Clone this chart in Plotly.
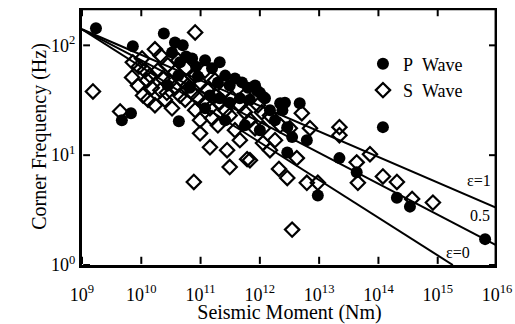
import math
import plotly.graph_objects as go

# ---- data ----
p_moment = [1.72e9, 7.2e9, 4.7e9, 6.7e9, 4.3e10, 2.4e10, 3.7e10, 5.0e10, 3.3e10, 5.7e10,
            4.5e10, 7.2e10, 8.4e10, 9.0e10, 1.19e11, 1.56e11, 2.1e11, 2.6e11, 1.96e11, 3.1e11,
            3.8e11, 5.0e11, 6.3e11, 8.3e11, 1.0e12, 1.22e12, 1.44e11, 2.1e11, 3.1e11, 4.6e11,
            6.8e11, 6.6e10, 1.19e11, 8.9e11, 1.13e12, 2.2e12, 2.65e12, 4.7e12, 3.5e12, 6.2e12,
            2.9e12, 1.8e12, 1.48e12, 2.4e12, 9.5e12, 2.2e13, 4.3e13, 1.19e14, 2.05e14, 3.4e14,
            6.3e15, 5.6e11, 1.0e12, 2.6e11, 4.2e10, 2.8e10, 2.9e12]
p_freq = [143, 98, 20.8, 24.1, 20.4, 128, 106, 100, 86, 79,
          70, 76, 64, 52, 73, 62, 70, 53, 46, 43,
          50, 46, 41, 43, 37, 33, 35, 33, 30, 33,
          32, 41, 26.7, 39, 34, 29.7, 30, 29.7, 14.6, 13.7,
          18, 20.8, 25.7, 25.7, 4.3, 9.4, 7.0, 18, 4.1, 3.4,
          1.72, 18.7, 16.9, 20.8, 53, 43, 10.6]

s_moment = [1.53e9, 4.4e9, 7.0e9, 7.2e9, 9.1e9, 1.25e10, 1.7e10, 8.1e10, 1.15e10, 1.4e10,
            1.5e10, 2.1e10, 2.7e10, 1.9e10, 2.3e10, 3.0e10, 3.7e10, 4.5e10, 5.5e10, 2.8e10,
            3.7e10, 4.9e10, 6.1e10, 7.2e10, 9.0e10, 1.19e11, 1.44e11, 4.2e10, 5.7e10, 8.1e10,
            9.8e10, 1.33e11, 1.75e11, 2.1e11, 2.6e11, 3.1e11, 8.1e10, 9.8e10, 1.56e11, 1.96e11,
            4.6e11, 5.6e11, 6.8e11, 8.3e11, 3.8e11, 4.6e11, 9.8e10, 1.44e11, 2.8e11, 3.1e11,
            6.1e11, 7.7e10, 1.13e12, 1.13e12, 6.8e11, 2.1e12, 2.9e12, 3.5e12, 6.2e12, 9.5e12,
            4.2e12, 5.1e12, 3.2e12, 2.2e13, 2.2e13, 4.3e13, 7.2e13, 4.5e13, 1.19e14, 2.05e14,
            3.7e14, 8.3e14, 1.48e12, 1.8e12, 2.6e11, 3.4e11, 5.6e11, 9.3e11, 1.08e12,
            1.75e11, 1.19e11, 2.1e10, 1.03e10, 1.3e10, 1.7e10, 2.5e10, 3.3e10, 2.2e12, 1.48e12,
            7.0e12, 8.8e9, 1.07e10]
s_freq = [38, 25, 51, 70, 64, 48, 92, 131, 59, 53,
          41, 39, 37, 59, 50, 46, 41, 35, 32, 66,
          57, 48, 43, 37, 33, 29.7, 26.7, 73, 62, 53,
          46, 39, 35, 30, 25.7, 23, 25.7, 20.8, 21.7, 18.7,
          28.5, 24.6, 20.8, 17.6, 16.9, 13.7, 15.8, 11.8, 11.1, 7.8,
          9.2, 5.7, 17.6, 12.9, 9.0, 7.5, 6.2, 2.1, 5.6, 5.6,
          9.4, 24.1, 17.6, 18, 15.2, 8.6, 10.2, 5.6, 6.4, 5.7,
          4.0, 3.7, 23, 13.7, 39, 33, 35, 28.5, 24.6,
          48, 59, 81, 76, 32, 28.5, 32, 26.7, 18.7, 11.1,
          17.6, 43, 35]

# model lines (end points)
line_labels = ["ε=1", "0.5", "ε=0"]
line_moment = [[1e9, 1e16], [1e9, 1e16], [1e9, 1.8e15]]
line_freq = [[140, 3.3], [140, 1.5], [140, 1.0]]
label_pos_moment = [2.9e15, 3.2e15, 1.26e15]
label_pos_freq = [5.9, 2.8, 1.29]

x_tickvals = [1e9, 1e10, 1e11, 1e12, 1e13, 1e14, 1e15, 1e16]
x_ticktext = ["10<sup>9</sup>", "10<sup>10</sup>", "10<sup>11</sup>", "10<sup>12</sup>",
              "10<sup>13</sup>", "10<sup>14</sup>", "10<sup>15</sup>", "10<sup>16</sup>"]
y_tickvals = [1, 10, 100]
y_ticktext = ["10<sup>0</sup>", "10<sup>1</sup>", "10<sup>2</sup>"]

X_RANGE = [9, 16]        # log10 range of the x axis
Y_RANGE = [0, 2.34]      # log10 range of the y axis
X_TICK_DEC = 0.135       # inside tick length on the y axes, in x decades (~8 px)
Y_TICK_DEC = 0.075       # inside tick length on the x axes, in y decades (~8 px)
X_EDGE_DEC = 0.02        # frame inset from the right edge, in x decades (~1 px)
Y_EDGE_DEC = 0.01        # frame inset from the top edge, in y decades (~1 px)

FONT = "Liberation Serif, Times New Roman, serif"

fig = go.Figure()

for xs, ys in zip(line_moment, line_freq):
    fig.add_trace(go.Scatter(x=xs, y=ys, mode="lines", line=dict(color="black", width=2),
                             showlegend=False, hoverinfo="skip"))

fig.add_trace(go.Scatter(x=p_moment, y=p_freq, mode="markers", name="P\u00a0\u00a0Wave",
                         marker=dict(symbol="circle", size=12, color="black",
                                     line=dict(color="black", width=0))))
fig.add_trace(go.Scatter(x=s_moment, y=s_freq, mode="markers", name="S\u00a0\u00a0Wave",
                         marker=dict(symbol="diamond-open", size=11, color="black",
                                     line=dict(color="black", width=2.2))))

# ---- frame (top/right) and inside ticks on all four sides, one segment per trace ----
x_in_lo = 10 ** (X_RANGE[0] + X_EDGE_DEC)
x_in_hi = 10 ** (X_RANGE[1] - X_EDGE_DEC)
y_in_lo = 10 ** (Y_RANGE[0] + Y_EDGE_DEC)
y_in_hi = 10 ** (Y_RANGE[1] - Y_EDGE_DEC)
segments = []
for tv in x_tickvals:
    segments.append(([tv, tv], [y_in_lo, 10 ** (Y_RANGE[0] + Y_TICK_DEC)]))
    segments.append(([tv, tv], [y_in_hi, 10 ** (Y_RANGE[1] - Y_TICK_DEC)]))
for tv in y_tickvals:
    segments.append(([x_in_lo, 10 ** (X_RANGE[0] + X_TICK_DEC)], [tv, tv]))
    segments.append(([x_in_hi, 10 ** (X_RANGE[1] - X_TICK_DEC)], [tv, tv]))
for sx, sy in segments:
    fig.add_trace(go.Scatter(x=sx, y=sy, mode="lines",
                             line=dict(color="black", width=2, simplify=False),
                             showlegend=False, hoverinfo="skip", cliponaxis=False))
fig.add_trace(go.Scatter(x=[10 ** X_RANGE[0], x_in_hi, x_in_hi],
                         y=[y_in_hi, y_in_hi, 10 ** Y_RANGE[0]], mode="lines",
                         line=dict(color="black", width=2.5, simplify=False),
                         showlegend=False, hoverinfo="skip", cliponaxis=False))

# annotation positions on log axes are given as log10 of the data value
for lab, mx, fy in zip(line_labels, label_pos_moment, label_pos_freq):
    fig.add_annotation(x=math.log10(mx), y=math.log10(fy), xref="x", yref="y", text=lab,
                       showarrow=False, font=dict(family=FONT, size=16, color="black"),
                       xanchor="left")

fig.update_layout(
    xaxis=dict(type="log", range=X_RANGE, tickvals=x_tickvals, ticktext=x_ticktext,
               ticks="outside", ticklen=11, tickcolor="rgba(0,0,0,0)",
               showline=True, linewidth=3, linecolor="black",
               showgrid=False, zeroline=False, automargin=False,
               tickfont=dict(family=FONT, size=18, color="black"),
               title=dict(text="Seismic Moment (Nm)", font=dict(family=FONT, size=20, color="black"),
                          standoff=0)),
    yaxis=dict(type="log", range=Y_RANGE, tickvals=y_tickvals, ticktext=y_ticktext,
               ticks="", showline=True, linewidth=3, linecolor="black",
               showgrid=False, zeroline=False, automargin=False,
               tickfont=dict(family=FONT, size=18, color="black"),
               title=dict(text="Corner Frequency (Hz)", font=dict(family=FONT, size=20, color="black"),
                          standoff=0)),
    width=515, height=324,
    margin=dict(l=82, r=18, t=8, b=59, autoexpand=False),
    plot_bgcolor="white", paper_bgcolor="white",
    legend=dict(x=0.677, y=0.854, xanchor="left", yanchor="top",
                font=dict(family=FONT, size=18, color="black"),
                bgcolor="rgba(0,0,0,0)", tracegroupgap=0),
)

fig.write_html("out.html", config={"displayModeBar": False},
               post_script="document.body.style.margin='0px';document.body.style.overflow='hidden';")
